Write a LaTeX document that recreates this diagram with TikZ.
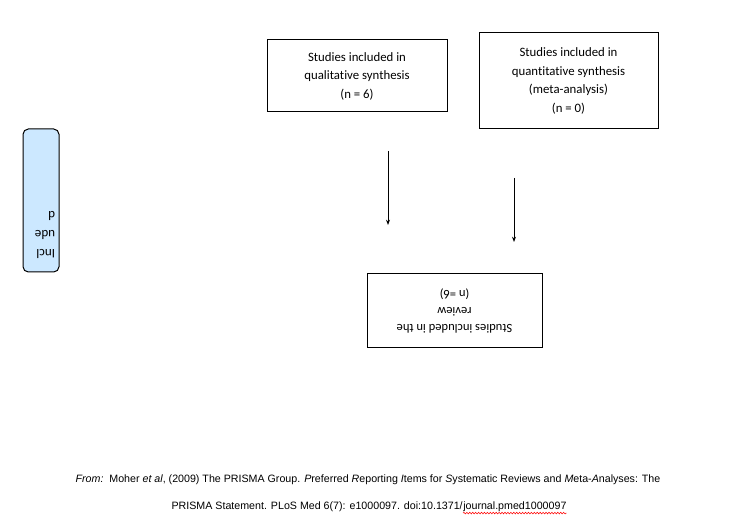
\documentclass[tikz,border=0pt]{standalone}
\usepackage{fontspec}
\setmainfont{Carlito}[Ligatures=NoCommon]
\newfontfamily\arialf{Liberation Sans}
\usetikzlibrary{arrows.meta,decorations.pathmorphing}
\definecolor{lightblue}{HTML}{CCE8FF}
\begin{document}
\begin{tikzpicture}[x=0.75pt,y=-0.75pt,
  flowbox/.style={draw=black,line width=0.75pt,align=center,inner sep=0pt,
    font=\fontsize{9.6pt}{13.9pt}\selectfont},
  sidebox/.style={draw=black,line width=0.75pt,fill=lightblue,rounded corners=4pt,
    minimum width=27pt,minimum height=107.25pt,inner sep=0pt},
  flowarrow/.style={line width=0.6pt,-{Stealth[length=4pt,width=3pt]}},
  foot/.style={font=\arialf\fontsize{8pt}{9pt}\selectfont,inner sep=0pt}]
\useasboundingbox (0,0) rectangle (753,530);
% boxes
\node[flowbox,minimum width=135pt,minimum height=54pt] (qual) at (357,76)
  {Studies included in\\qualitative synthesis\\(n = 6)};
\node[flowbox,minimum width=134.25pt,minimum height=72pt] (quant) at (568.5,81)
  {Studies included in\\quantitative synthesis\\(meta-analysis)\\(n = 0)};
\node[flowbox,minimum width=131.25pt,minimum height=55.5pt] (rev) at (454.5,311) {};
\node[rotate=180,align=center,inner sep=0pt,
  font=\fontsize{9.4pt}{12.5pt}\selectfont] (revtext) at (rev.center)
  {Studies included in the\\review\\(n =6)};
% side label
\node[sidebox] (incl) at (41,200.5) {};
\node[rotate=180,align=left,inner sep=0pt,
  font=\fontsize{9.8pt}{14.5pt}\selectfont] (incltext) at (45,235)
  {Incl\\ude\\d};
% arrows
\coordinate (a1s) at (388,151);
\coordinate (a1e) at (388,225);
\coordinate (a2s) at (514,178);
\coordinate (a2e) at (514,242);
\draw[flowarrow] (a1s) -- (a1e);
\draw[flowarrow] (a2s) -- (a2e);
% footer
\node[foot] (foot1) at (368,480)
  {\textit{From:}\ \ Moher \textit{et al}, (2009) The PRISMA Group. \textit{P}referred \textit{R}eporting \textit{I}tems for \textit{S}ystematic Reviews and \textit{M}eta-\textit{A}nalyses: The};
\node[foot,anchor=base east] (foot2a) at (463,509)
  {PRISMA Statement. PLoS Med 6(7): e1000097. doi:10.1371/};
\node[foot,anchor=base west] (foot2b) at (foot2a.base east)
  {journal.pmed1000097};
\draw[red,line width=0.4pt,decorate,decoration={snake,amplitude=0.6pt,segment length=2.2pt}]
  ([yshift=-1.2pt]foot2b.south west) -- ([yshift=-1.2pt]foot2b.south east);
\end{tikzpicture}
\end{document}
